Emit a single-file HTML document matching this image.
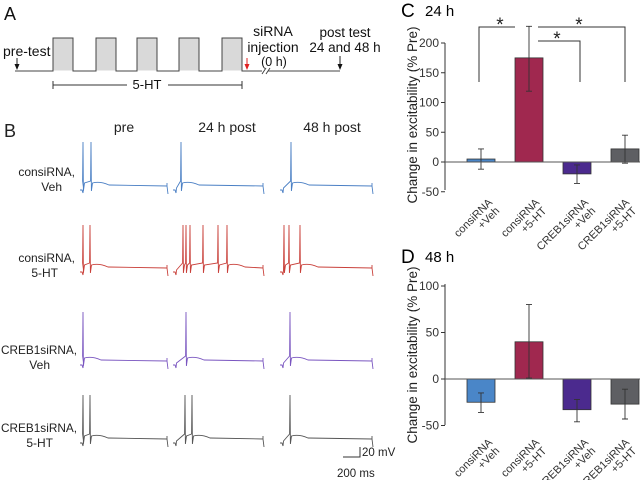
<!DOCTYPE html>
<html><head><meta charset="utf-8"><style>
body{margin:0;background:#fff;}
svg{display:block;font-family:"Liberation Sans",sans-serif;}
</style></head><body>
<svg id="fig" width="640" height="480" viewBox="0 0 640 480">
<!-- Panel A -->
<g fill="#111">
<text x="4" y="20" font-size="18">A</text>
<g fill="#d9d9d9" stroke="none">
<rect x="53.5" y="38.5" width="19" height="32"/><rect x="96.5" y="38.5" width="19" height="32"/><rect x="137.5" y="38.5" width="19" height="32"/><rect x="179.5" y="38.5" width="19" height="32"/><rect x="222.5" y="38.5" width="19" height="32"/></g>
<path d="M15 71 H53 V38 H73 V71 H96 V38 H116 V71 H137 V38 H157 V71 H179 V38 H199 V71 H222 V38 H242 V71 H262 M268 71 H340" fill="none" stroke="#444" stroke-width="1"/>
<path d="M262 74 L266 68 M266 74 L270 68" stroke="#444"/>
<text x="3" y="56" font-size="14">pre-test</text>
<path d="M17 58 V69" stroke="#222"/><path d="M14.5 64 L17 70 L19.5 64Z"/>
<path d="M247 58 V69" stroke="#e02020"/><path d="M244.5 64 L247 70 L249.5 64Z" fill="#e02020"/>
<text font-size="14" text-anchor="middle"><tspan x="273" y="36">siRNA</tspan><tspan x="273" y="52">injection</tspan><tspan x="274" y="66" font-size="12.5">(0 h)</tspan></text>
<text font-size="13.5" text-anchor="middle"><tspan x="345" y="37">post test</tspan><tspan x="345" y="52">24 and 48 h</tspan></text>
<path d="M340 56 V69" stroke="#222"/><path d="M337.5 64 L340 70 L342.5 64Z"/>
<path d="M53 81 V89 M53 85 H127 M168 85 H242 M242 81 V89" stroke="#333" fill="none"/>
<text x="147" y="89" font-size="13" text-anchor="middle">5-HT</text>
</g>
<!-- Panel B -->
<g id="panelB" fill="#222">
<text x="4" y="137" font-size="18">B</text>
<text x="124" y="132" font-size="14" text-anchor="middle">pre</text>
<text x="227" y="132" font-size="14" text-anchor="middle">24 h post</text>
<text x="332" y="132" font-size="14" text-anchor="middle">48 h post</text>
<text font-size="12" text-anchor="end"><tspan x="75" y="176">consiRNA,</tspan><tspan x="62" y="191">Veh</tspan></text>
<text font-size="12" text-anchor="end"><tspan x="75" y="262">consiRNA,</tspan><tspan x="58" y="277">5-HT</tspan></text>
<text font-size="12" text-anchor="end"><tspan x="77" y="354" textLength="76" lengthAdjust="spacingAndGlyphs">CREB1siRNA,</tspan><tspan x="50" y="369">Veh</tspan></text>
<text font-size="12" text-anchor="end"><tspan x="77" y="432" textLength="76" lengthAdjust="spacingAndGlyphs">CREB1siRNA,</tspan><tspan x="53" y="447">5-HT</tspan></text>
<path d="M360 447 V457 H343" stroke="#333" fill="none"/>
<text x="362" y="456" font-size="11.5">20 mV</text>
<text x="337" y="477" font-size="11.5">200 ms</text>
</g>
<!-- Panel C -->
<g id="panelC">
<text x="401" y="17" font-size="19">C</text>
<text x="425" y="16" font-size="15">24 h</text>
<text transform="translate(417,115) rotate(-90)" font-size="13.5" text-anchor="middle" fill="#222">Change in excitability (% Pre)</text>
</g>
<g id="panelD">
<text x="401" y="263" font-size="19">D</text>
<text x="425" y="262" font-size="15">48 h</text>
<text transform="translate(417,355) rotate(-90)" font-size="13.5" text-anchor="middle" fill="#222">Change in excitability (% Pre)</text>
</g>
</svg>
<script>
const categories=[["consiRNA","+Veh"],["consiRNA","+5-HT"],["CREB1siRNA","+Veh"],["CREB1siRNA","+5-HT"]];
const barColors=["#4a86c8","#a0284f","#4b2a8e","#5e5f63"];
const values24=[5,175,-20,22];
const errLow24=[-12,119,-36,-2];
const errHigh24=[22,228,-5,45];
const ticks24=[200,150,100,50,0,-50];
const values48=[-25,40,-33,-27];
const errLow48=[-36,1,-46,-43];
const errHigh48=[-15,80,-22,-11];
const ticks48=[100,50,0,-50];
const NS="http://www.w3.org/2000/svg";
function mk(tag,attrs,parent,text){const e=document.createElementNS(NS,tag);for(const k in attrs)e.setAttribute(k,attrs[k]);if(text!==undefined)e.textContent=text;parent.appendChild(e);return e;}
const xCenters=i=>481+i*48;
const labelOff=[12,11,12,5];
function drawChart(g,vals,lo,hi,ticks,y0,k,yTop,yBot,labelY){
  const y=v=>y0-v*k;
  const ax=mk('path',{d:`M445 ${yTop} V${yBot}`,stroke:'#333',fill:'none'},g);
  
  
  ticks.forEach(t=>{
    const tk=mk('path',{d:`M441 ${y(t)} H445`,stroke:'#333'},g);
    
    
    const tl=mk('text',{x:439,y:y(t)+4,'font-size':12,'text-anchor':'end',fill:'#333'},g,String(t));
    
    
  });
  vals.forEach((v,i)=>{
    const cx=xCenters(i);
    const r=mk('rect',{x:cx-14,y:Math.min(y(v),y(0)),width:28,height:Math.abs(y(v)-y(0)),fill:barColors[i],stroke:'#333','stroke-width':0.8},g);
    
    
    const e=mk('path',{d:`M${cx} ${y(hi[i])} V${y(lo[i])} M${cx-3} ${y(hi[i])} H${cx+3} M${cx-3} ${y(lo[i])} H${cx+3}`,stroke:'#333','stroke-width':0.9,fill:'none'},g);
    
    
    const lt=mk('text',{transform:`translate(${cx+labelOff[i]},${labelY}) rotate(-45)`,'font-size':11,'text-anchor':'end',fill:'#333'},g);
    
    
    mk('tspan',{x:0,y:0},lt,categories[i][0]);
    mk('tspan',{x:-1,y:11},lt,categories[i][1]);
  });
  const zl=mk('path',{d:`M445 ${y(0)} H640`,stroke:'#555','stroke-width':1},g);
  
  
}
const gC=document.getElementById('panelC'),gD=document.getElementById('panelD');
drawChart(gC,values24,errLow24,errHigh24,ticks24,162,0.595,43,190,203);
drawChart(gD,values48,errLow48,errHigh48,ticks48,379,0.93,284,425,443);
const sig=mk('path',{d:`M479 82 V27 H515 M538 27 H625 V82 M538 41 H580 V82`,stroke:'#333',fill:'none'},gC);


[[500,31],[579,31],[557,45]].forEach(p=>{
  const s=mk('text',{x:p[0],y:p[1],'font-size':19,'text-anchor':'middle',fill:'#222'},gC,'*');
  
  
});
// traces
const rowBase=[190,272,365,443];
const rowTop=[142,225,312,395];
const rowColors=["#4a7fc4","#c9403a","#7a56c0","#555"];
const colStart=[80,173,280];
const colEnd=[167,263,372];
const spikes=[[[83,91],[181],[291]],[[83,90],[183,186,190,203,218,227],[284,289,300]],[[83],[186],[290]],[[83,90],[185,192],[290]]];
const gB=document.getElementById('panelB');
rowBase.forEach((b,r)=>{
  for(let c=0;c<3;c++){
    const x0=colStart[c],x1=colEnd[c],sp=spikes[r][c];
    const plateau=b-4;
    let d=`M${x0} ${b} H${x0+2} L${x0+3} ${b+3} L${x0+3.5} ${b-2}`;
    sp.forEach(sx=>{d+=` L${sx-0.4} ${plateau-5} L${sx} ${rowTop[r]} L${sx+0.4} ${b+1} L${sx+1.5} ${plateau-3}`;});
    const last=sp[sp.length-1];
    d+=` Q${last+9} ${plateau-5} ${last+18} ${plateau-1} L${x1} ${plateau} V${plateau-3} M${x1} ${plateau} L${x1+1} ${b+4}`;
    const p=mk('path',{d:d,stroke:rowColors[r],fill:'none','stroke-width':0.9},gB);
    
    
  }
});
</script>
</body></html>
